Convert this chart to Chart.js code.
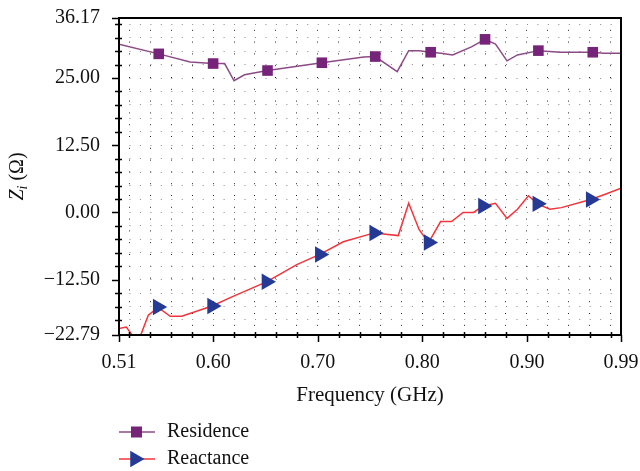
<!DOCTYPE html>
<html>
<head>
<meta charset="utf-8">
<script src="https://cdn.jsdelivr.net/npm/chart.js@4"></script>
<style>
  html, body { margin: 0; padding: 0; background: #fff; }
  #wrap { width: 640px; height: 471px; }
</style>
</head>
<body>
<div id="wrap"><canvas id="zChart" width="640" height="471"></canvas></div>
<script>
// Frequency sweep (GHz) and impedance (Ohm)
const residenceFreq = [0.510, 0.548, 0.578, 0.600, 0.611, 0.620, 0.630, 0.652, 0.704, 0.744, 0.755, 0.776, 0.787, 0.797, 0.808, 0.818, 0.829, 0.847, 0.860, 0.870, 0.881, 0.891, 0.911, 0.932, 0.963, 0.973, 0.990];
const residenceVal  = [31.3, 29.5, 28.0, 27.7, 27.7, 24.5, 25.6, 26.4, 27.85, 28.9, 29.0, 26.2, 30.1, 30.1, 29.8, 29.6, 29.3, 30.8, 32.2, 31.3, 28.2, 29.3, 30.1, 29.8, 29.8, 29.6, 29.6];
const residenceMarks = [0.548, 0.600, 0.652, 0.704, 0.755, 0.808, 0.860, 0.911, 0.963];

const reactanceFreq = [0.510, 0.517, 0.524, 0.530, 0.538, 0.542, 0.547, 0.559, 0.570, 0.599, 0.618, 0.651, 0.680, 0.702, 0.7245, 0.754, 0.777, 0.787, 0.797, 0.806, 0.8175, 0.828, 0.839, 0.849, 0.858, 0.870, 0.881, 0.891, 0.9015, 0.910, 0.922, 0.933, 0.961, 0.975, 0.990];
const reactanceVal  = [-21.6, -21.3, -23.2, -23.2, -19.1, -18.5, -17.6, -19.3, -19.3, -17.4, -15.7, -12.9, -9.7, -7.8, -5.45, -3.8, -4.3, 1.7, -3.2, -5.6, -1.7, -1.7, 0.0, 0.0, 1.2, 1.7, -1.1, 0.6, 3.1, 1.6, 0.6, 0.9, 2.4, 3.4, 4.5];
const reactanceMarks = [0.547, 0.599, 0.651, 0.702, 0.754, 0.806, 0.858, 0.910, 0.961];

// Axis ticks (labelled ones are the "major" ticks)
const xTicks = [0.51, 0.52, 0.54, 0.56, 0.58, 0.60, 0.62, 0.64, 0.66, 0.68, 0.70, 0.72, 0.74, 0.76, 0.78, 0.80, 0.82, 0.84, 0.86, 0.88, 0.90, 0.92, 0.94, 0.96, 0.98, 0.99];
const xLabels = [0.51, 0.60, 0.70, 0.80, 0.90, 0.99];
const yTicks = [-22.79, -20, -17.5, -15, -12.5, -10, -7.5, -5, -2.5, 0, 2.5, 5, 7.5, 10, 12.5, 15, 17.5, 20, 22.5, 25, 27.5, 30, 32.5, 35, 36.17];
const yLabels = [-22.79, -12.5, 0, 12.5, 25, 36.17];

const seriesNames = ['Residence', 'Reactance'];
const COL_RES_LINE = '#8c4a86', COL_RES_MARK = '#76247a';
const COL_REA_LINE = '#f4333a', COL_REA_MARK = '#243a94';
const FONT = '"Liberation Serif", "DejaVu Serif", serif';

const isIn = (list, v) => list.some(t => Math.abs(t - v) < 1e-6);
const fmt = v => v.toFixed(2).replace('-', '\u2212');

// frame, tick marks, y title and legend
const decorations = {
    id: 'decorations',
    afterDraw(chart) {
        const {ctx, chartArea: a, scales} = chart;
        ctx.save();
        ctx.strokeStyle = '#000';

        // ticks on x axis
        ctx.lineWidth = 1.5;
        scales.x.ticks.forEach(t => {
            const px = Math.round(scales.x.getPixelForValue(t.value)) + 0.5;
            ctx.beginPath();
            if (isIn(xLabels, t.value)) { ctx.moveTo(px, a.bottom); ctx.lineTo(px, a.bottom + 7); }
            else { ctx.moveTo(px, a.bottom - 3); ctx.lineTo(px, a.bottom + 3); }
            ctx.stroke();
        });
        // ticks on y axis
        scales.y.ticks.forEach(t => {
            const py = Math.round(scales.y.getPixelForValue(t.value)) + 0.5;
            ctx.beginPath();
            if (isIn(yLabels, t.value)) { ctx.moveTo(a.left - 7, py); ctx.lineTo(a.left, py); }
            else { ctx.moveTo(a.left - 4, py); ctx.lineTo(a.left + 3, py); }
            ctx.stroke();
        });

        // frame
        ctx.lineWidth = 2;
        ctx.strokeRect(a.left, a.top, a.right - a.left, a.bottom - a.top);

        // y axis title: Z_i (Ω)
        ctx.fillStyle = '#111';
        ctx.textBaseline = 'middle';
        ctx.translate(18, (a.top + a.bottom) / 2);
        ctx.rotate(-Math.PI / 2);
        const big = 'italic 20px ' + FONT, sub = 'italic 14px ' + FONT, reg = '20px ' + FONT;
        ctx.font = big; const wZ = ctx.measureText('Z').width;
        ctx.font = sub; const wI = ctx.measureText('i').width;
        ctx.font = reg; const wR = ctx.measureText(' (\u03A9)').width;
        let x = -(wZ + wI + wR) / 2;
        ctx.font = big; ctx.fillText('Z', x, 0); x += wZ;
        ctx.font = sub; ctx.fillText('i', x, 5); x += wI;
        ctx.font = reg; ctx.fillText(' (\u03A9)', x, 0);
        ctx.setTransform(1, 0, 0, 1, 0, 0);

        // legend
        const rows = [
            {y: 432, line: COL_RES_LINE, mark: COL_RES_MARK, style: 'rect'},
            {y: 459, line: COL_REA_LINE, mark: COL_REA_MARK, style: 'tri'}
        ];
        rows.forEach((r, i) => {
            ctx.strokeStyle = r.line;
            ctx.lineWidth = 1.5;
            ctx.beginPath(); ctx.moveTo(119, r.y); ctx.lineTo(155, r.y); ctx.stroke();
            ctx.fillStyle = r.mark;
            if (r.style === 'rect') {
                ctx.fillRect(131, r.y - 5.5, 11, 11);
            } else {
                const cx = 135, rad = 9.5;
                ctx.beginPath();
                ctx.moveTo(cx + rad, r.y);
                ctx.lineTo(cx - rad / 2, r.y - rad * 0.866);
                ctx.lineTo(cx - rad / 2, r.y + rad * 0.866);
                ctx.closePath(); ctx.fill();
            }
            ctx.fillStyle = '#111';
            ctx.font = '20px ' + FONT;
            ctx.textBaseline = 'middle';
            ctx.fillText(seriesNames[i], 167, r.y);
        });
        ctx.restore();
    }
};

const ctx = document.getElementById('zChart').getContext('2d');
new Chart(ctx, {
    type: 'line',
    data: {
        datasets: [{
            label: seriesNames[0],
            data: residenceFreq.map((f, i) => ({x: f, y: residenceVal[i]})),
            borderColor: COL_RES_LINE,
            borderWidth: 1.5,
            pointStyle: 'rect',
            pointRadius: c => isIn(residenceMarks, c.raw.x) ? 7.5 : 0,
            pointBackgroundColor: COL_RES_MARK,
            pointBorderColor: COL_RES_MARK,
            pointBorderWidth: 0,
            tension: 0
        }, {
            label: seriesNames[1],
            data: reactanceFreq.map((f, i) => ({x: f, y: reactanceVal[i]})),
            borderColor: COL_REA_LINE,
            borderWidth: 1.5,
            pointStyle: 'triangle',
            pointRotation: 90,
            pointRadius: c => isIn(reactanceMarks, c.raw.x) ? 9.5 : 0,
            pointBackgroundColor: COL_REA_MARK,
            pointBorderColor: COL_REA_MARK,
            pointBorderWidth: 0,
            tension: 0
        }]
    },
    options: {
        responsive: false,
        animation: false,
        events: [],
        layout: { padding: { left: 0, top: 18, right: 19, bottom: 60 } },
        plugins: { legend: { display: false }, tooltip: { enabled: false } },
        scales: {
            x: {
                type: 'linear',
                min: 0.51, max: 0.99,
                afterBuildTicks: s => { s.ticks = xTicks.map(v => ({value: v})); },
                afterFit: s => { s.height = 76; s.paddingLeft = 0; s.paddingRight = 0; },
                ticks: {
                    autoSkip: false, maxRotation: 0, padding: 16,
                    color: '#111', font: { family: FONT, size: 20 },
                    callback: v => isIn(xLabels, v) ? fmt(v) : ''
                },
                grid: { color: '#222', lineWidth: 1, drawTicks: false },
                border: { display: false, dash: [1, 10.8] },
                title: {
                    display: true, text: 'Frequency (GHz)', color: '#111',
                    font: { family: FONT, size: 21 }, padding: { top: 0, bottom: 3 }
                }
            },
            y: {
                type: 'linear',
                min: -22.79, max: 36.17,
                afterBuildTicks: s => { s.ticks = yTicks.map(v => ({value: v})); },
                afterFit: s => { s.width = 119; s.paddingTop = 0; s.paddingBottom = 0; },
                ticks: {
                    autoSkip: false, padding: 19,
                    color: '#111', font: { family: FONT, size: 20 },
                    callback: v => isIn(yLabels, v) ? fmt(v) : ''
                },
                grid: { color: '#888', lineWidth: 1, drawTicks: false },
                border: { display: false, dash: [1, 9.46] }
            }
        }
    },
    plugins: [decorations]
});
</script>
</body>
</html>
